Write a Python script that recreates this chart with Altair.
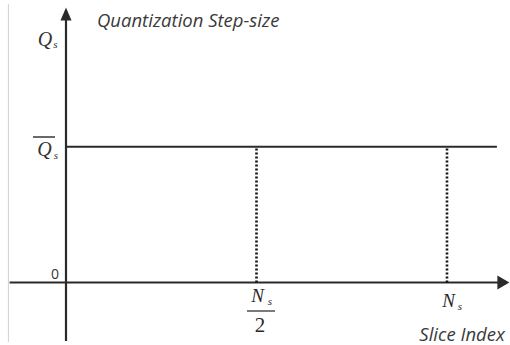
import altair as alt
import pandas as pd

# Schematic: constant quantization step-size across slice index
NS = 1.0                      # number of slices (x unit)
Q_BAR = 1.0                   # average quantization step-size (y unit)
tick_x = [NS / 2, NS]         # marked slice positions
x_axis_range = [-0.148, 1.139]  # extent of the slice-index axis line
y_axis_range = [-0.431, 1.933]  # extent of the step-size axis line
x_arrow = 1.148
y_arrow = 1.977
frame_x = -0.151
frame_range = [-0.438, 2.051]

W, H = 510, 345
xs = alt.Scale(domain=[-66 / 381, 444 / 381], nice=False, zero=False)
ys = alt.Scale(domain=[-62.5 / 135.8, 282.5 / 135.8], nice=False, zero=False)

INK = "#2a2a2a"
SANS = "Open Sans"
SERIF = "Liberation Serif"


def X(f):
    return alt.X(f, type="quantitative", scale=xs, axis=None)


def Y(f):
    return alt.Y(f, type="quantitative", scale=ys, axis=None)


def hrule(x0, x1, y, **kw):
    d = pd.DataFrame({"x0": [x0], "x1": [x1], "y": [y]})
    return alt.Chart(d).mark_rule(**kw).encode(x=X("x0"), x2="x1", y=Y("y"))


def vrule(x, y0, y1, **kw):
    d = pd.DataFrame({"x": [x], "y0": [y0], "y1": [y1]})
    return alt.Chart(d).mark_rule(**kw).encode(x=X("x"), y=Y("y0"), y2="y1")


def label(x, y, text, **kw):
    d = pd.DataFrame({"x": [x], "y": [y], "t": [text]})
    return alt.Chart(d).mark_text(**kw).encode(x=X("x"), y=Y("y"), text="t:N")


def arrow(x, y, shape, size):
    d = pd.DataFrame({"x": [x], "y": [y]})
    return alt.Chart(d).mark_point(
        shape=shape, size=size, filled=True, color=INK, opacity=1, strokeWidth=0
    ).encode(x=X("x"), y=Y("y"))


layers = []

# faint frame edge on the left
layers.append(vrule(frame_x, frame_range[0], frame_range[1], color="#d6d6d6", strokeWidth=1.2))

# axes with arrow heads
layers.append(hrule(x_axis_range[0], x_axis_range[1], 0, color=INK, strokeWidth=2.2))
layers.append(vrule(0, y_axis_range[0], y_axis_range[1], color=INK, strokeWidth=2.2))
layers.append(arrow(x_arrow, 0, "M1,0L-1,-1.15L-1,1.15Z", 144))
layers.append(arrow(0, y_arrow, "M0,-1L0.85,1L-0.85,1Z", 169))

# constant step-size level
layers.append(hrule(0, 1.131, Q_BAR, color=INK, strokeWidth=2))

# dotted guides at Ns/2 and Ns
for tx in tick_x:
    layers.append(vrule(tx, 0, Q_BAR, color="#111111", strokeWidth=2.6, strokeDash=[2, 2]))

# axis titles
layers.append(label(0, y_arrow, "Quantization Step-size", font=SANS, fontStyle="italic",
                    fontSize=18.5, color="#3a3a3a", align="left", baseline="alphabetic",
                    dx=31, dy=13))
layers.append(label(x_arrow, 0, "Slice Index", font=SANS, fontStyle="italic",
                    fontSize=18.5, color="#3a3a3a", align="right", baseline="alphabetic",
                    dx=1.5, dy=58.5))

# Q_s on the vertical axis
layers.append(label(0, y_arrow, "Q", font=SERIF, fontStyle="italic", fontSize=20,
                    color="#333333", align="center", baseline="alphabetic", dx=-21, dy=32))
layers.append(label(0, y_arrow, "s", font=SERIF, fontStyle="italic", fontSize=11,
                    color="#333333", align="center", baseline="alphabetic", dx=-10.5, dy=34))

# average level label with overline
layers.append(label(0, Q_BAR, "Q", font=SERIF, fontStyle="italic", fontSize=20,
                    color="#333333", align="center", baseline="alphabetic", dx=-21.5, dy=9.3))
layers.append(label(0, Q_BAR, "s", font=SERIF, fontStyle="italic", fontSize=11,
                    color="#333333", align="center", baseline="alphabetic", dx=-10, dy=12.3))
layers.append(hrule(0, 0, Q_BAR, color="#444444", strokeWidth=1.6,
                    xOffset=-33, x2Offset=-11, yOffset=-9.7))

# origin
layers.append(label(0, 0, "0", font=SANS, fontSize=14, color="#333333",
                    align="right", baseline="alphabetic", dx=-7, dy=-3.5))

# Ns/2 tick label as a fraction
layers.append(label(tick_x[0], 0, "N", font=SERIF, fontStyle="italic", fontSize=19,
                    color=INK, align="center", baseline="alphabetic", dx=1, dy=19.5))
layers.append(label(tick_x[0], 0, "s", font=SERIF, fontStyle="italic", fontSize=11,
                    color=INK, align="center", baseline="alphabetic", dx=13.5, dy=22.5))
layers.append(hrule(tick_x[0], tick_x[0], 0, color="#333333", strokeWidth=1.3,
                    xOffset=-9.5, x2Offset=18.5, yOffset=28.5))
layers.append(label(tick_x[0], 0, "2", font=SERIF, fontSize=21,
                    color=INK, align="center", baseline="alphabetic", dx=3.5, dy=49.5))

# Ns tick label
layers.append(label(tick_x[1], 0, "N", font=SERIF, fontStyle="italic", fontSize=19,
                    color=INK, align="center", baseline="alphabetic", dx=1.5, dy=24.5))
layers.append(label(tick_x[1], 0, "s", font=SERIF, fontStyle="italic", fontSize=11,
                    color=INK, align="center", baseline="alphabetic", dx=13, dy=27.5))

chart = (
    alt.layer(*layers)
    .properties(width=W, height=H, padding=0, autosize=alt.AutoSizeParams(type="none"),
                background="white")
    .configure_view(stroke=None)
)

chart.save("out.html", embed_options={"renderer": "svg", "actions": False})
